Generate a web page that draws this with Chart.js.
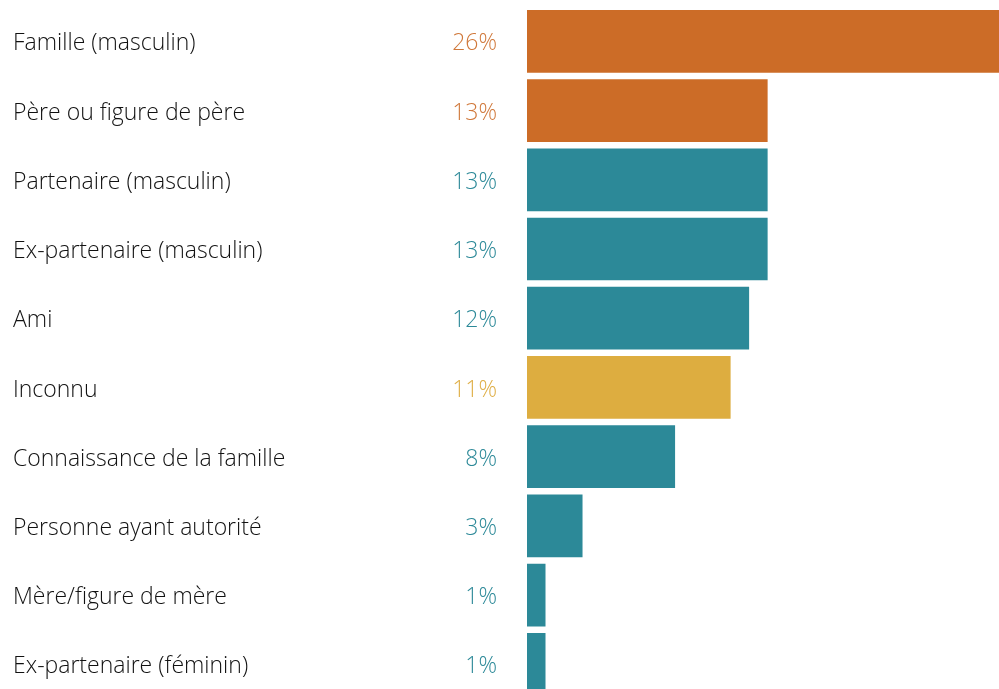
<!DOCTYPE html>
<html>
<head>
<meta charset="utf-8">
<script src="https://cdn.jsdelivr.net/npm/chart.js@4/dist/chart.umd.min.js"></script>
<style>
  html, body { margin: 0; padding: 0; background: #fff; overflow: hidden; }
  #wrap { width: 999px; height: 699px; position: relative; }
</style>
</head>
<body>
<div id="wrap"><canvas id="chart"></canvas></div>
<script>
// données
const categories = ['Famille (masculin)', 'Père ou figure de père', 'Partenaire (masculin)', 'Ex-partenaire (masculin)', 'Ami', 'Inconnu', 'Connaissance de la famille', 'Personne ayant autorité', 'Mère/figure de mère', 'Ex-partenaire (féminin)'];
const values = [26, 13, 13, 13, 12, 11, 8, 3, 1, 1];
const groups = ['o', 'o', 't', 't', 't', 'y', 't', 't', 't', 't'];

const barColors = { o: '#CC6C27', t: '#2C8998', y: '#DDAD40' };
const textColors = { o: '#D0783A', t: '#2C8998', y: '#DFAE45' };

const sideText = {
    id: 'sideText',
    afterDatasetsDraw(chart) {
        const ctx = chart.ctx; const y = chart.scales.y;
        ctx.save();
        ctx.font = '300 23px "Open Sans", Lato, sans-serif';
        ctx.textBaseline = 'middle';
        categories.forEach((c, i) => {
            const py = y.getPixelForValue(i) + 2.5;
            ctx.fillStyle = '#111111'; ctx.textAlign = 'left';
            ctx.fillText(c, 13, py);
            ctx.fillStyle = textColors[groups[i]]; ctx.textAlign = 'right';
            ctx.fillText(values[i] + '%', 497, py);
        });
        ctx.restore();
    }
};

new Chart(document.getElementById('chart').getContext('2d'), {
    type: 'bar',
    data: { labels: categories, datasets: [{ data: values, backgroundColor: groups.map(g => barColors[g]), borderWidth: 0, barPercentage: 0.906, categoryPercentage: 1 }] },
    options: {
        indexAxis: 'y', responsive: true, maintainAspectRatio: false, animation: false,
        layout: { padding: { left: 527, right: 0, top: 6.7, bottom: 0 } },
        plugins: { legend: { display: false }, tooltip: { enabled: false } },
        scales: {
            x: { display: false, min: 0, max: 25.5 },
            y: { display: false }
        }
    },
    plugins: [sideText]
});
</script>
</body>
</html>
